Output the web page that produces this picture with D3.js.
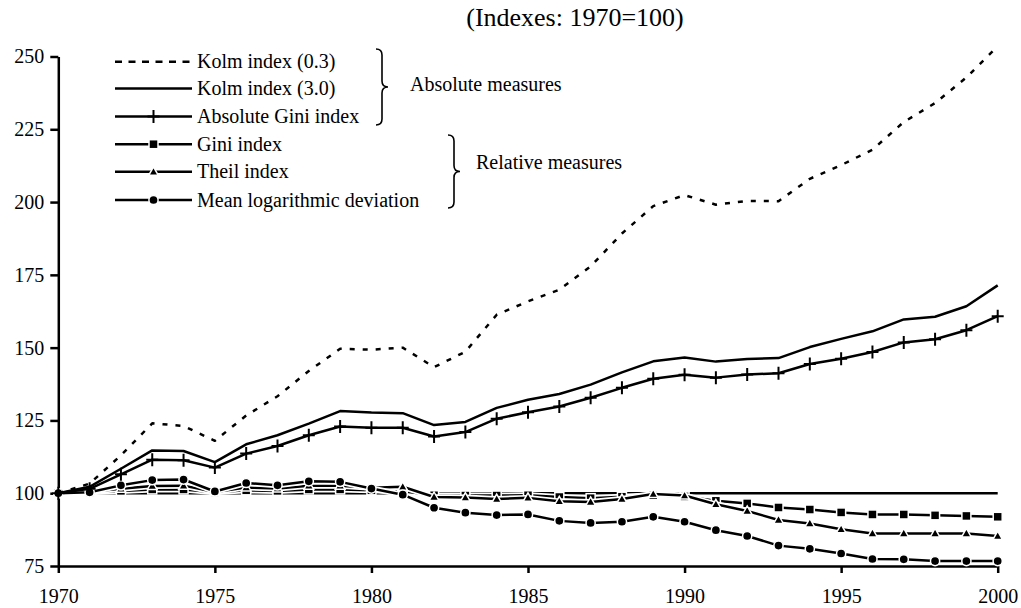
<!DOCTYPE html>
<html lang="en">
<head>
<meta charset="utf-8">
<script src="https://d3js.org/d3.v7.min.js"></script>
<title>Inequality indexes 1970-2000</title>
<style type="text/css">
body {
  margin: 0;
  background-color: #ffffff;
}
svg text {
  font-family: "Liberation Serif", "Times New Roman", Times, serif;
  fill: #000;
}
</style>
</head>
<body>
<script type="text/javascript">
// data (1970 = 100)
var years = [1970, 1971, 1972, 1973, 1974, 1975, 1976, 1977, 1978, 1979,
             1980, 1981, 1982, 1983, 1984, 1985, 1986, 1987, 1988, 1989,
             1990, 1991, 1992, 1993, 1994, 1995, 1996, 1997, 1998, 1999, 2000];

var kolm03 = [100, 103.3, 113.0, 124.0, 123.1, 118.0, 126.7, 133.3, 142.0, 149.6,
              149.3, 150.0, 143.3, 148.6, 161.3, 165.9, 169.9, 177.9, 189.2, 198.6,
              202.4, 199.1, 200.4, 200.3, 208.0, 212.7, 218.0, 227.5, 234.0, 242.8, 253.5];
var kolm30 = [100, 102.2, 108.4, 114.7, 114.5, 110.7, 116.8, 119.9, 123.9, 128.2,
              127.7, 127.5, 123.4, 124.5, 129.3, 132.1, 134.1, 137.3, 141.5, 145.3,
              146.6, 145.2, 146.1, 146.4, 150.2, 153.0, 155.6, 159.7, 160.6, 164.2, 171.4];
var absGini = [100, 101.5, 106.5, 111.5, 111.3, 108.8, 113.6, 116.2, 119.9, 122.9,
               122.5, 122.5, 119.5, 121.0, 125.6, 127.8, 129.8, 132.8, 136.2, 139.3,
               140.7, 139.7, 140.8, 141.2, 144.4, 146.2, 148.5, 151.8, 152.9, 156.0, 160.8];
var gini = [100, 100.3, 100.8, 101.3, 101.3, 100.3, 101.0, 100.8, 101.3, 101.3,
            101.0, 100.7, 99.3, 99.2, 99.2, 99.3, 98.7, 98.3, 98.8, 99.3,
            98.9, 97.4, 96.5, 95.1, 94.4, 93.4, 92.7, 92.7, 92.4, 92.2, 91.9];
var theil = [100, 100.5, 101.5, 102.5, 102.6, 100.4, 102.0, 101.6, 102.6, 102.6,
             101.9, 102.2, 98.7, 98.5, 98.0, 98.4, 97.2, 97.0, 98.0, 99.7,
             99.2, 96.2, 93.9, 90.8, 89.6, 87.6, 86.2, 86.2, 86.2, 86.2, 85.3];
var mld = [100, 100.3, 102.7, 104.5, 104.7, 100.6, 103.5, 102.7, 104.1, 103.9,
           101.6, 99.5, 95.0, 93.3, 92.5, 92.7, 90.5, 89.8, 90.2, 91.9,
           90.2, 87.3, 85.3, 82.0, 80.9, 79.3, 77.4, 77.3, 76.7, 76.7, 76.7];

var yTicks = [75, 100, 125, 150, 175, 200, 225, 250];
var xTicks = [1970, 1975, 1980, 1985, 1990, 1995, 2000];
var baseValue = 100;

var legendLabels = ["Kolm index (0.3)", "Kolm index (3.0)", "Absolute Gini index",
                    "Gini index", "Theil index", "Mean logarithmic deviation"];
var titleText = "(Indexes: 1970=100)";

var width = 1021, height = 608;
var serif = '"Liberation Serif", "Times New Roman", Times, serif';

var svg = d3.select("body").append("svg")
  .attr("width", width)
  .attr("height", height)
  .style("font-family", serif);

var x = d3.scaleLinear().domain([1970, 2000]).range([58.3, 997.7]);
var y = d3.scaleLinear().domain([75, 250]).range([566, 56.5]);

// title
svg.append("text")
  .attr("x", 575)
  .attr("y", 26)
  .attr("text-anchor", "middle")
  .style("font-size", "26px")
  .text(titleText);

// axes
var yAxis = svg.append("g")
  .attr("transform", "translate(" + x(1970) + ",0)")
  .call(d3.axisLeft(y).tickValues(yTicks).tickSize(8).tickPadding(6).tickSizeOuter(0));
var xAxis = svg.append("g")
  .attr("transform", "translate(0," + y(75) + ")")
  .call(d3.axisBottom(x).tickValues(xTicks).tickFormat(d3.format("d")).tickSize(7).tickPadding(16).tickSizeOuter(0));

[yAxis, xAxis].forEach(function(g) {
  g.attr("font-family", serif);
  g.select(".domain").attr("stroke", "#000").attr("stroke-width", 2.5);
  g.selectAll(".tick line").attr("stroke", "#000").attr("stroke-width", 2.5);
  g.selectAll(".tick text")
    .style("font-family", serif)
    .style("font-size", "20px")
    .attr("fill", "#000");
});

var line = d3.line()
  .x(function(d) { return x(d[0]); })
  .y(function(d) { return y(d[1]); });

function pairs(vals) {
  return years.map(function(yr, i) { return [yr, vals[i]]; });
}

// 100 reference line
svg.append("path")
  .attr("d", line([[1970, baseValue], [2000, baseValue]]))
  .attr("fill", "none").attr("stroke", "#fff").attr("stroke-width", 6);
svg.append("path")
  .attr("d", line([[1970, baseValue], [2000, baseValue]]))
  .attr("fill", "none").attr("stroke", "#000").attr("stroke-width", 2.5);

// marker symbols
function drawMarker(g, type, cx, cy) {
  if (type === "square") {
    g.append("rect")
      .attr("x", cx - 4.5).attr("y", cy - 4.5)
      .attr("width", 9).attr("height", 9)
      .attr("fill", "#000").attr("stroke", "#fff").attr("stroke-width", 1.5);
  } else if (type === "triangle") {
    g.append("path")
      .attr("d", "M" + cx + "," + (cy - 5) + "L" + (cx + 4.8) + "," + (cy + 3.5) + "L" + (cx - 4.8) + "," + (cy + 3.5) + "Z")
      .attr("fill", "#000").attr("stroke", "#fff").attr("stroke-width", 1.5);
  } else if (type === "circle") {
    g.append("circle")
      .attr("cx", cx).attr("cy", cy).attr("r", 4.6)
      .attr("fill", "#000").attr("stroke", "#fff").attr("stroke-width", 1.5);
  } else if (type === "plus") {
    g.append("path")
      .attr("d", "M" + (cx - 6) + "," + cy + "H" + (cx + 6) + "M" + cx + "," + (cy - 6.5) + "V" + (cy + 6.5))
      .attr("stroke", "#000").attr("stroke-width", 2).attr("fill", "none");
  }
}

var series = [
  { vals: kolm03, dash: "5,8", legendDash: "7,6.5", marker: null, halo: false },
  { vals: kolm30, dash: null, marker: null, halo: false },
  { vals: absGini, dash: null, marker: "plus", halo: false },
  { vals: gini, dash: null, marker: "square", halo: true },
  { vals: theil, dash: null, marker: "triangle", halo: true },
  { vals: mld, dash: null, marker: "circle", halo: true }
];

// relative series first (with white halo), absolute on top
var drawOrder = [3, 4, 5, 0, 1, 2];
drawOrder.forEach(function(k) {
  var s = series[k];
  var g = svg.append("g");
  var pts = pairs(s.vals);
  if (s.halo) {
    g.append("path").attr("d", line(pts))
      .attr("fill", "none").attr("stroke", "#fff").attr("stroke-width", 6)
      .attr("stroke-linejoin", "round");
  }
  g.append("path").attr("d", line(pts))
    .attr("fill", "none").attr("stroke", "#000").attr("stroke-width", 2.5)
    .attr("stroke-dasharray", s.dash)
    .attr("stroke-linejoin", "round");
  if (s.marker) {
    pts.forEach(function(p) { drawMarker(g, s.marker, x(p[0]), y(p[1])); });
  }
});

// legend
var legend = svg.append("g");
var rowY = [61.7, 88.5, 116.5, 144.2, 171.8, 200];
series.forEach(function(s, i) {
  legend.append("line")
    .attr("x1", 115).attr("x2", 192)
    .attr("y1", rowY[i]).attr("y2", rowY[i])
    .attr("stroke", "#000").attr("stroke-width", 2.5)
    .attr("stroke-dasharray", s.legendDash || s.dash);
  if (s.marker) drawMarker(legend, s.marker, 153.5, rowY[i]);
  legend.append("text")
    .attr("x", 197).attr("y", rowY[i] + 6.6)
    .style("font-size", "20px")
    .text(legendLabels[i]);
});

// braces
function brace(x0, y0, y1, w) {
  var mid = (y0 + y1) / 2, xm = x0 + w * 0.5, r = 6;
  return "M" + x0 + "," + y0 +
    "Q" + xm + "," + y0 + " " + xm + "," + (y0 + r) +
    "L" + xm + "," + (mid - r) +
    "Q" + xm + "," + mid + " " + (x0 + w) + "," + mid +
    "Q" + xm + "," + mid + " " + xm + "," + (mid + r) +
    "L" + xm + "," + (y1 - r) +
    "Q" + xm + "," + y1 + " " + x0 + "," + y1;
}
svg.append("path").attr("d", brace(376, 49, 125, 12))
  .attr("fill", "none").attr("stroke", "#000").attr("stroke-width", 1.6);
svg.append("path").attr("d", brace(448, 135, 208, 12))
  .attr("fill", "none").attr("stroke", "#000").attr("stroke-width", 1.6);

svg.append("text").attr("x", 410).attr("y", 91)
  .style("font-size", "20px").text("Absolute measures");
svg.append("text").attr("x", 476).attr("y", 169)
  .style("font-size", "20px").text("Relative measures");
</script>
</body>
</html>
